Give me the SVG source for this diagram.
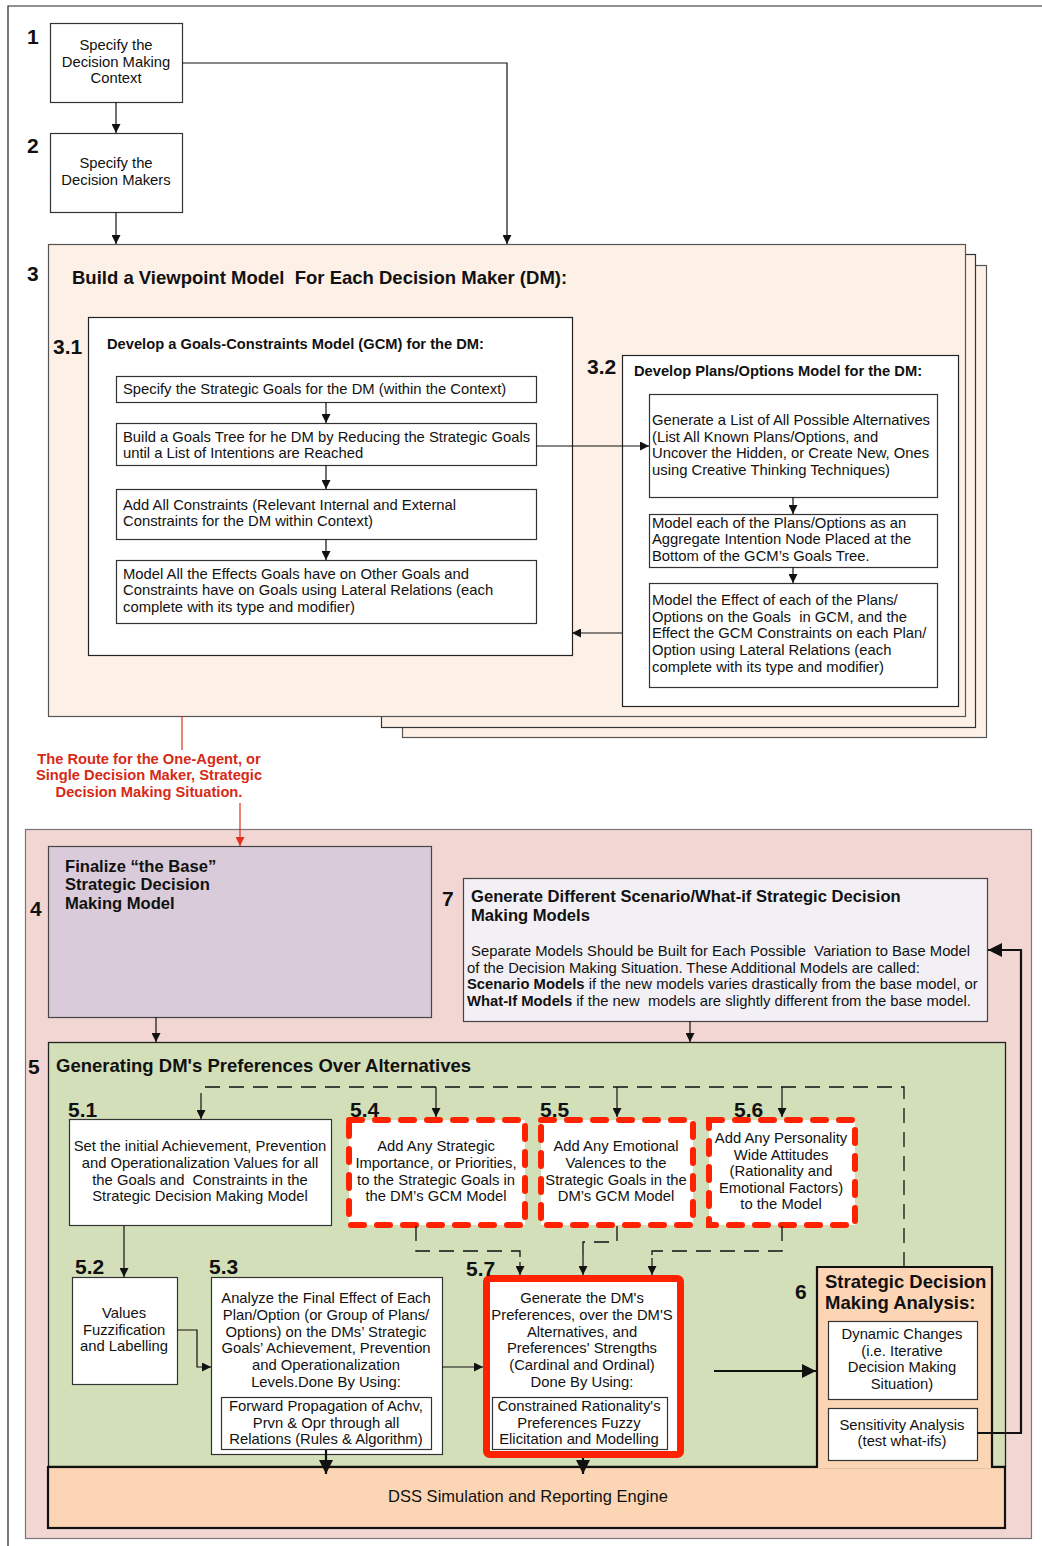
<svg xmlns="http://www.w3.org/2000/svg" width="1042" height="1546" viewBox="0 0 1042 1546">
  <style>
    text { font-family: "Liberation Sans", Arial, Helvetica, sans-serif; fill: #111; white-space: pre; }
    .t { font-size: 14.8px; }
    .c { text-anchor: middle; }
    .b { font-weight: bold; }
    .num { font-size: 21px; font-weight: bold; }
    .h14 { font-size: 14.7px; font-weight: bold; }
    .h16 { font-size: 16.6px; font-weight: bold; }
    .h18 { font-size: 18.5px; font-weight: bold; }
    .red { fill: #d62a17; font-size: 14.7px; font-weight: bold; }
    .box { fill: #ffffff; stroke: #333; stroke-width: 1.2; }
    .ln { fill: none; stroke: #111; stroke-width: 1.2; }
    .thick { fill: none; stroke: #111; stroke-width: 2.2; }
    .dash { fill: none; stroke: #111; stroke-width: 1.3; stroke-dasharray: 15 9; }
    .rdash { fill: #ffffff; stroke: #ff2200; stroke-width: 6; stroke-dasharray: 13 13; stroke-linecap: round; }
  </style>
  <defs>
    <marker id="ah" viewBox="0 0 10 10" refX="10" refY="5" markerWidth="9" markerHeight="9" markerUnits="userSpaceOnUse" orient="auto">
      <path d="M0,0 L10,5 L0,10 z" fill="#111"/>
    </marker>
    <marker id="ahL" viewBox="0 0 10 10" refX="10" refY="5" markerWidth="14" markerHeight="14" markerUnits="userSpaceOnUse" orient="auto">
      <path d="M0,0 L10,5 L0,10 z" fill="#111"/>
    </marker>
    <marker id="ahR" viewBox="0 0 10 10" refX="10" refY="5" markerWidth="9" markerHeight="9" markerUnits="userSpaceOnUse" orient="auto">
      <path d="M0,0 L10,5 L0,10 z" fill="#e0301c"/>
    </marker>
  </defs>

  <rect width="1042" height="1546" fill="#ffffff"/>
  <!-- page frame -->
  <path d="M8,1546 V6 H1042" fill="none" stroke="#222" stroke-width="1.2"/>

  <!-- step 1 -->
  <g id="n1">
    <rect class="box" x="50.5" y="23.5" width="132" height="79"/>
    <text class="num" x="27" y="44">1</text>
    <text class="t c" x="116" y="50">Specify the</text>
    <text class="t c" x="116" y="67">Decision Making</text>
    <text class="t c" x="116" y="83">Context</text>
  </g>

  <!-- step 2 -->
  <g id="n2">
    <rect class="box" x="50.5" y="133.5" width="132" height="79"/>
    <text class="num" x="27" y="153">2</text>
    <text class="t c" x="116" y="168">Specify the</text>
    <text class="t c" x="116" y="185">Decision Makers</text>
  </g>

  <!-- step 3: stacked viewpoint sheets -->
  <g id="n3">
    <rect x="402.5" y="265.5" width="584" height="472" fill="#fdf0e6" stroke="#555" stroke-width="1.2"/>
    <rect x="381.5" y="254.5" width="594" height="473" fill="#fdf0e6" stroke="#333" stroke-width="1.2"/>
    <rect x="48.5" y="244.5" width="917" height="472" fill="#fdf0e6" stroke="#555" stroke-width="1.2"/>
    <text class="num" x="27" y="281">3</text>
    <text class="h18" x="72" y="284">Build a Viewpoint Model  For Each Decision Maker (DM):</text>
  </g>

  <!-- 3.1 goals-constraints model -->
  <g id="n3_1">
    <rect x="88.5" y="317.5" width="484" height="338" fill="#fff" stroke="#222" stroke-width="1.2"/>
    <text class="num" x="53" y="354">3.1</text>
    <text class="h14" x="107" y="349">Develop a Goals-Constraints Model (GCM) for the DM:</text>
  </g>
  <g id="n3_1a">
    <rect class="box" x="116.5" y="376.5" width="420" height="26"/>
    <text class="t" x="123" y="394">Specify the Strategic Goals for the DM (within the Context)</text>
  </g>
  <g id="n3_1b">
    <rect class="box" x="116.5" y="423.5" width="420" height="42"/>
    <text class="t" x="123" y="442">Build a Goals Tree for he DM by Reducing the Strategic Goals</text>
    <text class="t" x="123" y="458">until a List of Intentions are Reached</text>
  </g>
  <g id="n3_1c">
    <rect class="box" x="116.5" y="489.5" width="420" height="50"/>
    <text class="t" x="123" y="510">Add All Constraints (Relevant Internal and External</text>
    <text class="t" x="123" y="526">Constraints for the DM within Context)</text>
  </g>
  <g id="n3_1d">
    <rect class="box" x="116.5" y="560.5" width="420" height="63"/>
    <text class="t" x="123" y="579">Model All the Effects Goals have on Other Goals and</text>
    <text class="t" x="123" y="595">Constraints have on Goals using Lateral Relations (each</text>
    <text class="t" x="123" y="612">complete with its type and modifier)</text>
  </g>

  <!-- 3.2 plans/options model -->
  <g id="n3_2">
    <rect x="622.5" y="355.5" width="336" height="351" fill="#fff" stroke="#222" stroke-width="1.2"/>
    <text class="num" x="587" y="374">3.2</text>
    <text class="h14" x="634" y="376">Develop Plans/Options Model for the DM:</text>
  </g>
  <g id="n3_2a">
    <rect class="box" x="649.5" y="394.5" width="288" height="103"/>
    <text class="t" x="652" y="425">Generate a List of All Possible Alternatives</text>
    <text class="t" x="652" y="442">(List All Known Plans/Options, and</text>
    <text class="t" x="652" y="458">Uncover the Hidden, or Create New, Ones</text>
    <text class="t" x="652" y="475">using Creative Thinking Techniques)</text>
  </g>
  <g id="n3_2b">
    <rect class="box" x="649.5" y="514.5" width="288" height="53"/>
    <text class="t" x="652" y="528">Model each of the Plans/Options as an</text>
    <text class="t" x="652" y="544">Aggregate Intention Node Placed at the</text>
    <text class="t" x="652" y="561">Bottom of the GCM’s Goals Tree.</text>
  </g>
  <g id="n3_2c">
    <rect class="box" x="649.5" y="583.5" width="288" height="104"/>
    <text class="t" x="652" y="605">Model the Effect of each of the Plans/</text>
    <text class="t" x="652" y="622">Options on the Goals  in GCM, and the</text>
    <text class="t" x="652" y="638">Effect the GCM Constraints on each Plan/</text>
    <text class="t" x="652" y="655">Option using Lateral Relations (each</text>
    <text class="t" x="652" y="672">complete with its type and modifier)</text>
  </g>

  <!-- route note -->
  <g id="route">
    <text class="red c" x="149" y="764">The Route for the One-Agent, or</text>
    <text class="red c" x="149" y="780">Single Decision Maker, Strategic</text>
    <text class="red c" x="149" y="797">Decision Making Situation.</text>
  </g>

  <!-- base model region -->
  <g id="region">
    <rect x="25.5" y="829.5" width="1006" height="709" fill="#f2d6d3" stroke="#777" stroke-width="1.2"/>
  </g>

  <g id="n4">
    <rect x="48.5" y="846.5" width="383" height="171" fill="#d9cbd9" stroke="#444" stroke-width="1.2"/>
    <text class="num" x="30" y="916">4</text>
    <text class="h16" x="65" y="872">Finalize “the Base”</text>
    <text class="h16" x="65" y="890">Strategic Decision</text>
    <text class="h16" x="65" y="909">Making Model</text>
  </g>

  <g id="n7">
    <rect x="463.5" y="878.5" width="524" height="143" fill="#f2f0f5" stroke="#444" stroke-width="1.2"/>
    <text class="num" x="442" y="906">7</text>
    <text class="h16" x="471" y="902">Generate Different Scenario/What-if Strategic Decision</text>
    <text class="h16" x="471" y="921">Making Models</text>
    <text class="t" x="467" y="956"> Separate Models Should be Built for Each Possible  Variation to Base Model</text>
    <text class="t" x="467" y="973">of the Decision Making Situation. These Additional Models are called:</text>
    <text class="t" x="467" y="989"><tspan class="b">Scenario Models</tspan> if the new models varies drastically from the base model, or</text>
    <text class="t" x="467" y="1006"><tspan class="b">What-If Models</tspan> if the new  models are slightly different from the base model.</text>
  </g>

  <!-- step 5 -->
  <g id="n5">
    <rect x="48.5" y="1042.5" width="957" height="424" fill="#d3dfb8" stroke="#222" stroke-width="1.3"/>
    <text class="num" x="28" y="1074">5</text>
    <text class="h18" x="56" y="1072">Generating DM's Preferences Over Alternatives</text>
  </g>

  <g id="n5_1">
    <rect class="box" x="69.5" y="1119.5" width="262" height="106"/>
    <text class="num" x="68" y="1117">5.1</text>
    <text class="t c" x="200" y="1151">Set the initial Achievement, Prevention</text>
    <text class="t c" x="200" y="1168">and Operationalization Values for all</text>
    <text class="t c" x="200" y="1185">the Goals and  Constraints in the</text>
    <text class="t c" x="200" y="1201">Strategic Decision Making Model</text>
  </g>

  <g id="n5_4">
    <rect class="rdash" x="349" y="1120" width="176" height="105"/>
    <text class="num" x="350" y="1117">5.4</text>
    <text class="t c" x="436" y="1151">Add Any Strategic</text>
    <text class="t c" x="436" y="1168">Importance, or Priorities,</text>
    <text class="t c" x="436" y="1185">to the Strategic Goals in</text>
    <text class="t c" x="436" y="1201">the DM’s GCM Model</text>
  </g>

  <g id="n5_5">
    <rect class="rdash" x="541" y="1120" width="152" height="105"/>
    <text class="num" x="540" y="1117">5.5</text>
    <text class="t c" x="616" y="1151">Add Any Emotional</text>
    <text class="t c" x="616" y="1168">Valences to the</text>
    <text class="t c" x="616" y="1185">Strategic Goals in the</text>
    <text class="t c" x="616" y="1201">DM’s GCM Model</text>
  </g>

  <g id="n5_6">
    <rect class="rdash" x="709" y="1120" width="146" height="105"/>
    <text class="num" x="734" y="1117">5.6</text>
    <text class="t c" x="781" y="1143">Add Any Personality</text>
    <text class="t c" x="781" y="1160">Wide Attitudes</text>
    <text class="t c" x="781" y="1176">(Rationality and</text>
    <text class="t c" x="781" y="1193">Emotional Factors)</text>
    <text class="t c" x="781" y="1209">to the Model</text>
  </g>

  <g id="n5_2">
    <rect class="box" x="72.5" y="1277.5" width="105" height="107"/>
    <text class="num" x="75" y="1274">5.2</text>
    <text class="t c" x="124" y="1318">Values</text>
    <text class="t c" x="124" y="1335">Fuzzification</text>
    <text class="t c" x="124" y="1351">and Labelling</text>
  </g>

  <g id="n5_3">
    <rect class="box" x="211.5" y="1277.5" width="231" height="177"/>
    <text class="num" x="209" y="1274">5.3</text>
    <text class="t c" x="326" y="1303">Analyze the Final Effect of Each</text>
    <text class="t c" x="326" y="1320">Plan/Option (or Group of Plans/</text>
    <text class="t c" x="326" y="1337">Options) on the DMs’ Strategic</text>
    <text class="t c" x="326" y="1353">Goals’ Achievement, Prevention</text>
    <text class="t c" x="326" y="1370">and Operationalization</text>
    <text class="t c" x="326" y="1387">Levels.Done By Using:</text>
    <rect class="box" x="221.5" y="1397.5" width="210" height="52"/>
    <text class="t c" x="326" y="1411">Forward Propagation of Achv,</text>
    <text class="t c" x="326" y="1428">Prvn &amp; Opr through all</text>
    <text class="t c" x="326" y="1444">Relations (Rules &amp; Algorithm)</text>
  </g>

  <g id="n5_7">
    <rect x="486.5" y="1278.5" width="194" height="176" rx="3" fill="#fff" stroke="#ff2200" stroke-width="7"/>
    <text class="num" x="466" y="1276">5.7</text>
    <text class="t c" x="582" y="1303">Generate the DM's</text>
    <text class="t c" x="582" y="1320">Preferences, over the DM'S</text>
    <text class="t c" x="582" y="1337">Alternatives, and</text>
    <text class="t c" x="582" y="1353">Preferences' Strengths</text>
    <text class="t c" x="582" y="1370">(Cardinal and Ordinal)</text>
    <text class="t c" x="582" y="1387">Done By Using:</text>
    <rect class="box" x="492.5" y="1397.5" width="175" height="52"/>
    <text class="t c" x="579" y="1411">Constrained Rationality's</text>
    <text class="t c" x="579" y="1428">Preferences Fuzzy</text>
    <text class="t c" x="579" y="1444">Elicitation and Modelling</text>
  </g>

  <!-- DSS engine -->
  <g id="dss">
    <rect x="48" y="1467" width="957" height="61" fill="#fcd5b5" stroke="#111" stroke-width="2.2"/>
    <text class="t c" x="528" y="1502" style="font-size:16.5px">DSS Simulation and Reporting Engine</text>
  </g>

  <!-- step 6 -->
  <g id="n6">
    <rect x="818" y="1268" width="173" height="200" fill="#fcd5b5"/>
    <path d="M817,1467 V1267 H992 V1467" fill="none" stroke="#111" stroke-width="2.2"/>
    <text class="num" x="795" y="1299">6</text>
    <text class="h18" x="825" y="1288">Strategic Decision</text>
    <text class="h18" x="825" y="1309">Making Analysis:</text>
    <rect class="box" x="828.5" y="1321.5" width="149" height="78"/>
    <text class="t c" x="902" y="1339">Dynamic Changes</text>
    <text class="t c" x="902" y="1356">(i.e. Iterative</text>
    <text class="t c" x="902" y="1372">Decision Making</text>
    <text class="t c" x="902" y="1389">Situation)</text>
    <rect class="box" x="828.5" y="1408.5" width="149" height="52"/>
    <text class="t c" x="902" y="1430">Sensitivity Analysis</text>
    <text class="t c" x="902" y="1446">(test what-ifs)</text>
  </g>

  <!-- connectors -->
  <g id="connectors">
    <path class="ln" d="M116,102 V133" marker-end="url(#ah)"/>
    <path class="ln" d="M116,212 V244" marker-end="url(#ah)"/>
    <path class="ln" d="M182,63 H507 V244" marker-end="url(#ah)"/>

    <path class="ln" d="M326,402 V423" marker-end="url(#ah)"/>
    <path class="ln" d="M326,465 V489" marker-end="url(#ah)"/>
    <path class="ln" d="M326,539 V560" marker-end="url(#ah)"/>
    <path class="ln" d="M536,446 H649" marker-end="url(#ah)"/>
    <path class="ln" d="M793,497 V514" marker-end="url(#ah)"/>
    <path class="ln" d="M793,567 V583" marker-end="url(#ah)"/>
    <path class="ln" d="M622,633 H572" marker-end="url(#ah)"/>

    <path d="M182,716 V750" fill="none" stroke="#e0301c" stroke-width="1.2"/>
    <path d="M240,803 V846" fill="none" stroke="#e0301c" stroke-width="1.2" marker-end="url(#ahR)"/>

    <path class="ln" d="M156,1017 V1042" marker-end="url(#ah)"/>
    <path class="ln" d="M690,1021 V1042" marker-end="url(#ah)"/>

    <!-- dashed feedback from analysis to refinement steps -->
    <path class="dash" d="M904,1267 V1087 H203"/>
    <path class="ln" d="M201,1093 V1119" marker-end="url(#ah)"/>
    <path class="ln" d="M436,1087 V1117" marker-end="url(#ah)"/>
    <path class="ln" d="M617,1087 V1117" marker-end="url(#ah)"/>
    <path class="ln" d="M782,1087 V1117" marker-end="url(#ah)"/>

    <path class="dash" d="M416,1226 V1251 H520 V1262"/>
    <path class="ln" d="M520,1262 V1275" marker-end="url(#ah)"/>
    <path class="dash" d="M617,1226 V1242 H583 V1255"/>
    <path class="ln" d="M583,1255 V1275" marker-end="url(#ah)"/>
    <path class="dash" d="M782,1226 V1251 H652 V1258"/>
    <path class="ln" d="M652,1258 V1275" marker-end="url(#ah)"/>

    <path class="ln" d="M124,1226 V1277" marker-end="url(#ah)"/>
    <path class="ln" d="M177,1330 H197 V1367 H211" marker-end="url(#ah)"/>
    <path class="ln" d="M442,1367 H483" marker-end="url(#ah)"/>
    <path class="thick" d="M326,1450 V1474" marker-end="url(#ahL)"/>
    <path class="thick" d="M583,1458 V1474" marker-end="url(#ahL)"/>
    <path class="thick" d="M714,1371 H816" marker-end="url(#ahL)"/>
    <path class="thick" d="M977,1433 H1021 V950 H988" marker-end="url(#ahL)"/>
  </g>
</svg>
